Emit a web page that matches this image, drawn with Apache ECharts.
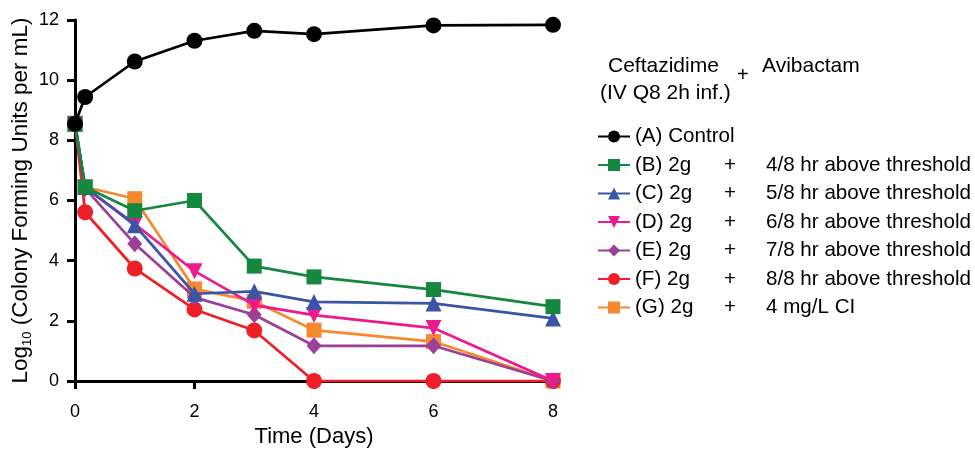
<!DOCTYPE html>
<html>
<head>
<meta charset="utf-8">
<script src="https://cdn.jsdelivr.net/npm/echarts@6/dist/echarts.min.js"></script>
<style>
  html, body { margin: 0; padding: 0; background: #fff; }
  #chart { width: 975px; height: 449px; }
</style>
</head>
<body>
<div id="chart"></div>
<script>
// sampling times (days)
const days = [0, 0.17, 1, 2, 3, 4, 6, 8];

// log10 CFU/mL per regimen
const ctrlA = [8.55, 9.44, 10.62, 11.31, 11.64, 11.53, 11.82, 11.84];
const regB  = [8.55, 6.45, 5.66, 6.0, 3.82, 3.46, 3.04, 2.47];
const regC  = [8.55, 6.45, 5.18, 2.9, 2.98, 2.63, 2.58, 2.08];
const regD  = [8.55, 6.42, 5.22, 3.65, 2.52, 2.19, 1.76, 0];
const regE  = [8.55, 6.4, 4.56, 2.78, 2.2, 1.17, 1.17, 0];
const regF  = [8.55, 5.61, 3.74, 2.38, 1.68, 0, 0, 0];
const regG  = [8.55, 6.45, 6.06, 3.06, 2.65, 1.69, 1.31, 0];

const seriesNames = ["(A) Control", "(B) 2g", "(C) 2g", "(D) 2g", "(E) 2g", "(F) 2g", "(G) 2g"];
const avibactam = ["", "4/8 hr above threshold", "5/8 hr above threshold", "6/8 hr above threshold",
                   "7/8 hr above threshold", "8/8 hr above threshold", "4 mg/L CI"];
const xTicks = [0, 2, 4, 6, 8];
const yTicks = [0, 2, 4, 6, 8, 10, 12];

const allData = [ctrlA, regB, regC, regD, regE, regF, regG];
const colors  = ["#000000", "#15883f", "#3a55a6", "#ec1a8c", "#9b3f98", "#ee1f26", "#f7882e"];
const symbols = ["circle", "rect", "triangle", "triangle", "diamond", "circle", "rect"];
const symRot  = [0, 0, 0, 180, 0, 0, 0];
const symSize = [16, 15, 16, 16, [15, 17], 16, 15];

const FONT = "Liberation Sans, Arial, sans-serif";

let series = allData.map((vals, i) => ({
  name: seriesNames[i] + (i ? " " + avibactam[i] : ""),
  type: "line",
  data: days.map((d, k) => [d, vals[k]]),
  symbol: symbols[i],
  symbolRotate: symRot[i],
  symbolSize: symSize[i],
  clip: false,
  z: 10 - i,
  lineStyle: {width: 2.7, color: colors[i]},
  itemStyle: {color: colors[i]},
  emphasis: {disabled: true}
}));

let chart = echarts.init(document.getElementById("chart"));
chart.setOption({
  animation: false,
  textStyle: {fontFamily: FONT},
  grid: {left: 75, right: 422, top: 20, bottom: 68, outerBoundsMode: "none", containLabel: false},
  xAxis: {
    type: "value", min: xTicks[0], max: xTicks[xTicks.length - 1], interval: 2,
    name: "Time (Days)", nameLocation: "middle", nameGap: 44,
    nameTextStyle: {fontSize: 22, color: "#000", fontFamily: FONT},
    splitLine: {show: false},
    axisLine: {show: true, onZero: false, lineStyle: {color: "#000", width: 3}},
    axisTick: {show: true, inside: false, interval: 0, length: 8, lineStyle: {color: "#000", width: 3}},
    axisLabel: {fontSize: 18, color: "#000", margin: 22, fontFamily: FONT}
  },
  yAxis: {
    type: "value", min: yTicks[0], max: yTicks[yTicks.length - 1], interval: 2,
    name: "{m|Log}{s|10}{m| (Colony Forming Units per mL)}",
    nameLocation: "middle", nameGap: 41,
    nameTextStyle: {
      color: "#000",
      rich: {
        m: {fontSize: 22.5, lineHeight: 26, color: "#000", fontFamily: FONT, verticalAlign: "middle"},
        s: {fontSize: 13, lineHeight: 14, color: "#000", fontFamily: FONT, verticalAlign: "bottom"}
      }
    },
    splitLine: {show: false},
    axisLine: {show: true, lineStyle: {color: "#000", width: 3}},
    axisTick: {show: true, inside: false, interval: 0, length: 8, lineStyle: {color: "#000", width: 3}},
    axisLabel: {fontSize: 18, color: "#000", margin: 16, fontFamily: FONT}
  },
  legend: {
    orient: "vertical", left: 597, top: 126, padding: 0,
    itemWidth: 32, itemHeight: 15, itemGap: 7.5,
    selectedMode: false,
    data: series.map(s => s.name),
    formatter: function (name) {
      let i = series.findIndex(s => s.name === name);
      if (i === 0) return "{n|" + seriesNames[0] + "}";
      return "{n|" + seriesNames[i] + "}{p|+}{t|" + avibactam[i] + "}";
    },
    textStyle: {
      fontSize: 20.6, lineHeight: 20, color: "#000", fontFamily: FONT,
      rich: {
        n: {fontSize: 20.6, lineHeight: 20, width: 89, fontFamily: FONT, color: "#000"},
        p: {fontSize: 20.6, lineHeight: 20, width: 42, fontFamily: FONT, color: "#000"},
        t: {fontSize: 20.6, lineHeight: 20, fontFamily: FONT, color: "#000"}
      }
    }
  },
  graphic: [
    {type: "text", left: 608, top: 56, style: {text: "Ceftazidime", font: "21px " + FONT, fill: "#000"}},
    {type: "text", left: 600, top: 83, style: {text: "(IV Q8 2h inf.)", font: "21px " + FONT, fill: "#000"}},
    {type: "text", left: 737, top: 65, style: {text: "+", font: "20px " + FONT, fill: "#000"}},
    {type: "text", left: 762, top: 56, style: {text: "Avibactam", font: "21px " + FONT, fill: "#000"}}
  ],
  series: series
});
</script>
</body>
</html>
